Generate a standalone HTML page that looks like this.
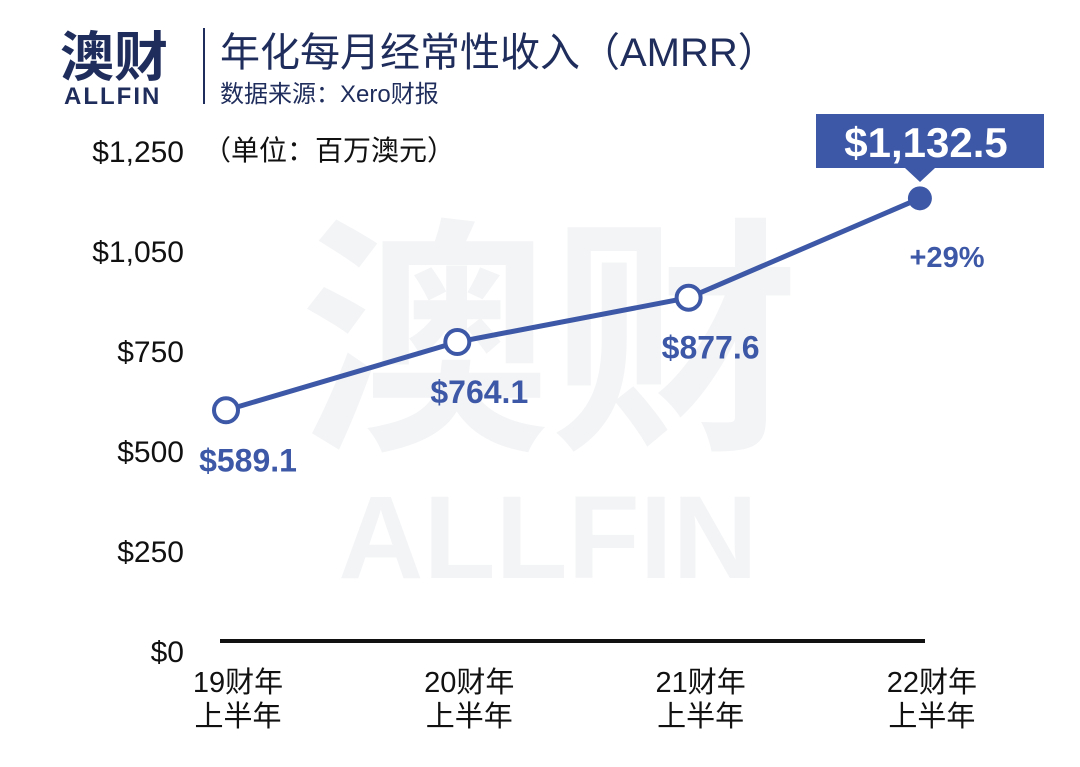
<!DOCTYPE html>
<html><head><meta charset="utf-8"><style>
body{margin:0;background:#fff;width:1080px;height:767px;overflow:hidden;font-family:"Liberation Sans","Noto Sans CJK SC",sans-serif}
svg{display:block}
</style></head><body>
<svg width="1080" height="767">
<g fill="#f3f4f6" font-weight="bold">
<text x="550" y="430" font-size="250" text-anchor="middle" font-family="Noto Sans CJK SC,sans-serif">澳财</text>
<text x="548" y="578" font-size="118" text-anchor="middle" font-family="Liberation Sans,sans-serif">ALLFIN</text>
</g>
<g>
<text x="60" y="76" font-size="54" font-weight="bold" fill="#1f2d5c" font-family="Noto Sans CJK SC,sans-serif">澳财</text>
<text x="64" y="104" font-size="24" font-weight="bold" fill="#1f2d5c" letter-spacing="2">ALLFIN</text>
</g>
<line x1="204" y1="28" x2="204" y2="104" stroke="#1f2d5c" stroke-width="2"/>
<text x="220" y="66" font-size="40" fill="#1f2d5c">年化每月经常性收入（AMRR）</text>
<text x="220" y="102" font-size="24" fill="#1f2d5c">数据来源：Xero财报</text>
<text x="203" y="160" font-size="28" fill="#111">（单位：百万澳元）</text>
<g id="yaxis" font-size="30" fill="#111" text-anchor="end"></g>
<line x1="220" y1="641" x2="925" y2="641" stroke="#111" stroke-width="4"/>
<g id="xaxis" font-size="29" fill="#111" text-anchor="middle"></g>
<g id="series"></g>
<g>
<rect x="816" y="114" width="228" height="54" fill="#3d58a6"/>
<polygon points="905,168 935,168 920,182" fill="#3d58a6"/>
<text x="926" y="157" font-size="42" font-weight="bold" fill="#fff" text-anchor="middle">$1,132.5</text>
</g>
<text x="947" y="267" font-size="29" font-weight="bold" fill="#3d58a6" text-anchor="middle">+29%</text>
</svg>
<script>
const categories=["19财年","20财年","21财年","22财年"];
const values=[589.1,764.1,877.6,1132.5];
const valueLabels=["$589.1","$764.1","$877.6",""];
const yTickLabels=["$0","$250","$500","$750","$1,050","$1,250"];
const xPos=i=>226+i*231.3;
const yVal=v=>640-v*0.39;
const ns="http://www.w3.org/2000/svg";
const ya=document.getElementById('yaxis');
yTickLabels.forEach((t,i)=>{const e=document.createElementNS(ns,'text');e.setAttribute('x',184);e.setAttribute('y',662-i*100);e.textContent=t;


ya.appendChild(e);});
const xa=document.getElementById('xaxis');
categories.forEach((c,i)=>{[c,"上半年"].forEach((t,k)=>{const e=document.createElementNS(ns,'text');e.setAttribute('x',xPos(i)+12);e.setAttribute('y',692+k*34);e.textContent=t;


xa.appendChild(e);});});
const s=document.getElementById('series');
const pl=document.createElementNS(ns,'polyline');
pl.setAttribute('points',values.map((v,i)=>xPos(i)+','+yVal(v)).join(' '));
pl.setAttribute('fill','none');pl.setAttribute('stroke','#3d58a6');pl.setAttribute('stroke-width','5');


s.appendChild(pl);
values.forEach((v,i)=>{const c=document.createElementNS(ns,'circle');c.setAttribute('cx',xPos(i));c.setAttribute('cy',yVal(v));
const last=i===values.length-1;c.setAttribute('r',12);c.setAttribute('fill',last?'#3d58a6':'#fff');c.setAttribute('stroke','#3d58a6');c.setAttribute('stroke-width',last?0:4);


s.appendChild(c);
if(valueLabels[i]){const t=document.createElementNS(ns,'text');t.setAttribute('x',xPos(i)+22);t.setAttribute('y',yVal(v)+61);t.setAttribute('text-anchor','middle');t.setAttribute('font-size','32');t.setAttribute('font-weight','bold');t.setAttribute('fill','#3d58a6');t.textContent=valueLabels[i];


s.appendChild(t);}
});
</script>
</body></html>
